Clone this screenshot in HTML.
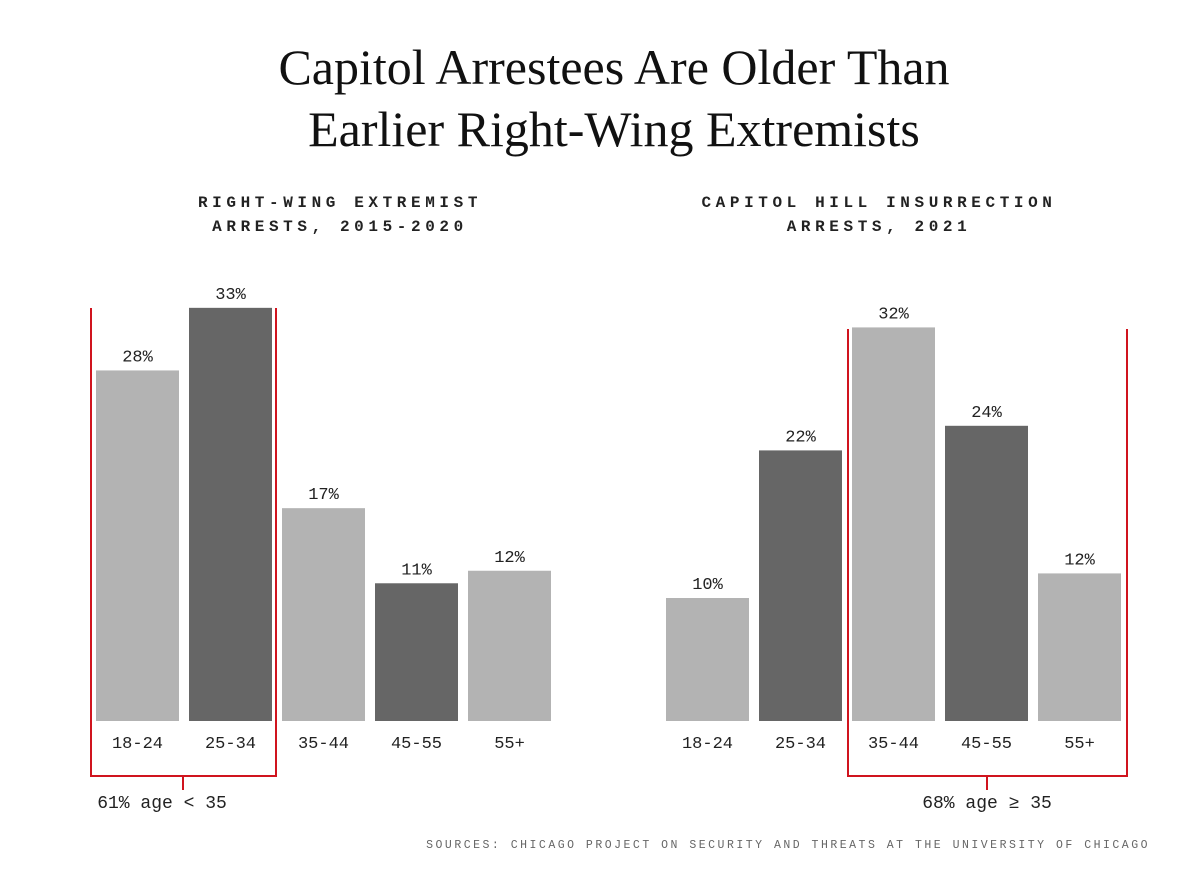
<!DOCTYPE html>
<html><head><meta charset="utf-8"><style>
body{margin:0;background:#fff;}
svg{display:block;}
.t{font-family:"Liberation Serif",serif;font-size:50px;fill:#111;}
.m{font-family:"Liberation Mono",monospace;fill:#222;}
</style></head><body>
<svg id="c" width="1200" height="877" viewBox="0 0 1200 877">
<text class="t" x="614" y="84" text-anchor="middle">Capitol Arrestees Are Older Than</text>
<text class="t" x="614" y="146" text-anchor="middle">Earlier Right-Wing Extremists</text>
<text class="m" x="340" y="207" font-size="16" letter-spacing="4.6" text-anchor="middle" font-weight="bold">RIGHT-WING EXTREMIST</text>
<text class="m" x="340" y="231" font-size="16" letter-spacing="4.6" text-anchor="middle" font-weight="bold">ARRESTS, 2015-2020</text>
<text class="m" x="879" y="207" font-size="16" letter-spacing="4.6" text-anchor="middle" font-weight="bold">CAPITOL HILL INSURRECTION</text>
<text class="m" x="879" y="231" font-size="16" letter-spacing="4.6" text-anchor="middle" font-weight="bold">ARRESTS, 2021</text>
<g id="bars"></g>
<g stroke="#d0141e" stroke-width="2" fill="none">
<path d="M91 308V776H276V308M183 776V790"/>
<path d="M848 329V776H1127V329M987 776V790"/>
</g>
<text class="m" x="162" y="808" font-size="18" text-anchor="middle">61% age &lt; 35</text>
<text class="m" x="987" y="808" font-size="18" text-anchor="middle">68% age ≥ 35</text>
<text class="m" x="1150" y="848" font-size="11.5" letter-spacing="2.5" text-anchor="end" style="fill:#666">SOURCES: CHICAGO PROJECT ON SECURITY AND THREATS AT THE UNIVERSITY OF CHICAGO</text>
</svg>
<script>
const categories=["18-24","25-34","35-44","45-55","55+"];
const leftValues=[28,33,17,11,12];
const rightValues=[10,22,32,24,12];
const ns="http://www.w3.org/2000/svg";
const g=document.getElementById("bars");
const base=721;
function draw(vals,x0,scale){
  vals.forEach((v,i)=>{
    const x=x0+i*93, h=v*scale;
    const r=document.createElementNS(ns,"rect");
    r.setAttribute("x",x);r.setAttribute("y",base-h);r.setAttribute("width",83);r.setAttribute("height",h);
    r.setAttribute("fill",i%2?"#666666":"#b3b3b3");
    
    
    g.appendChild(r);
    const t=document.createElementNS(ns,"text");
    t.setAttribute("class","m");t.setAttribute("x",x+41.5);t.setAttribute("y",base-h-9);
    t.setAttribute("text-anchor","middle");t.setAttribute("font-size","17");
    t.textContent=v+"%";
    
    
    g.appendChild(t);
    const c=document.createElementNS(ns,"text");
    c.setAttribute("class","m");c.setAttribute("x",x+41.5);c.setAttribute("y",748);
    c.setAttribute("text-anchor","middle");c.setAttribute("font-size","17");
    c.textContent=categories[i];
    
    
    g.appendChild(c);
  });
}
draw(leftValues,96,12.52);
draw(rightValues,666,12.3);
</script>
</body></html>
